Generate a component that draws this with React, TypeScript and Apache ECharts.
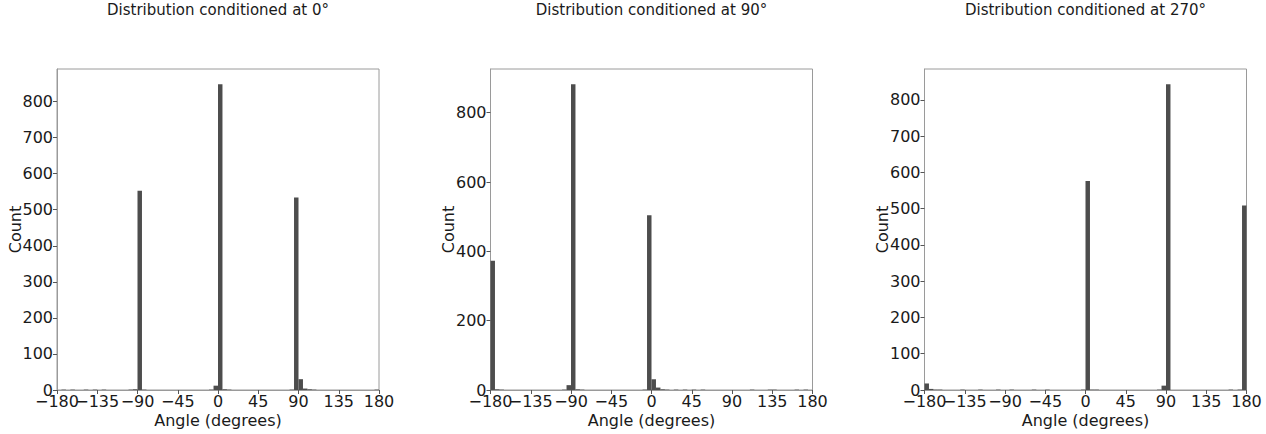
import React, { useEffect, useRef } from "react";
import * as echarts from "echarts";

// Histogram bins: start angle of each 5° bin and its count
const BIN_WIDTH = 5;

const titles = [
  "Distribution conditioned at 0°",
  "Distribution conditioned at 90°",
  "Distribution conditioned at 270°",
];

const p1Bins = [-175, -165, -150, -140, -130, -100, -95, -90, -85, -10, -5, 0, 5, 10, 80, 85, 90, 95, 100, 105, 175];
const p1Counts = [1, 1, 1, 1, 1, 1, 2, 553, 1, 1, 12, 848, 2, 1, 1, 534, 30, 4, 2, 1, 1];

const p2Bins = [-180, -175, -170, -100, -95, -90, -85, -80, -10, -5, 0, 5, 10, 15, 25, 35, 45, 55, 110, 130, 135, 160, 170];
const p2Counts = [373, 2, 1, 1, 14, 882, 2, 1, 1, 504, 31, 7, 2, 1, 1, 1, 1, 1, 1, 1, 1, 1, 1];

const p3Bins = [-180, -175, -170, -165, -140, -120, -100, -85, -60, -45, -5, 0, 5, 10, 80, 85, 90, 160, 170, 175];
const p3Counts = [18, 3, 1, 1, 1, 1, 1, 1, 1, 1, 1, 576, 1, 1, 1, 12, 843, 1, 1, 509];

const xTicks = [-180, -135, -90, -45, 0, 45, 90, 135, 180];
const xTicksA = [-180, -90, 0, 90, 180];
const xTicksB = [-135, -45, 45, 135];
const yTicks13 = [0, 100, 200, 300, 400, 500, 600, 700, 800];
const yTicks2 = [0, 200, 400, 600, 800];

const panels = [
  { bins: p1Bins, counts: p1Counts, yTicks: yTicks13 },
  { bins: p2Bins, counts: p2Counts, yTicks: yTicks2 },
  { bins: p3Bins, counts: p3Counts, yTicks: yTicks13 },
];

const gridLefts = [57, 490.5, 924.5];
const GRID_W = 322;
const GRID_TOP = 69;
const GRID_H = 321;
const FONT = "DejaVu Sans";
const TXT = "#1a1a1a";
const minus = (v: number) => String(v).replace("-", "\u2212");

export default function App() {
  const ref = useRef<HTMLDivElement>(null);
  useEffect(() => {
    document.body.style.margin = "0";
    const chart = echarts.init(ref.current!, null, { renderer: "svg" });
    const grid = panels.map((_, i) => ({
      left: gridLefts[i],
      top: GRID_TOP,
      width: GRID_W,
      height: GRID_H,
      show: true,
      borderColor: "#9a9a9a",
      borderWidth: 1,
      backgroundColor: "transparent",
    }));
    const labelStyle = {
      fontFamily: FONT,
      fontSize: 16,
      color: TXT,
      margin: 3,
      showMinLabel: true,
      showMaxLabel: true,
      hideOverlap: false,
      formatter: (v: number) => minus(v),
    };
    const xAxis: any[] = [];
    panels.forEach((_, i) => {
      xAxis.push({
        type: "value",
        gridIndex: i,
        position: "bottom",
        min: -180,
        max: 180,
        interval: 45,
        name: "Angle (degrees)",
        nameLocation: "middle",
        nameGap: 22,
        nameMoveOverlap: false,
        nameTextStyle: { fontFamily: FONT, fontSize: 16, color: TXT },
        axisLine: { show: true, onZero: false, lineStyle: { color: "#9a9a9a", width: 1 } },
        axisTick: { show: true, length: 4, lineStyle: { color: "#555" }, customValues: xTicks },
        axisLabel: { ...labelStyle, customValues: xTicksA },
        splitLine: { show: false },
      });
      xAxis.push({
        type: "value",
        gridIndex: i,
        position: "bottom",
        offset: 0,
        min: -180,
        max: 180,
        interval: 45,
        axisLine: { show: false, onZero: false },
        axisTick: { show: false },
        axisLabel: { ...labelStyle, customValues: xTicksB },
        splitLine: { show: false },
      });
    });
    const yAxis = panels.map((p, i) => ({
      type: "value",
      gridIndex: i,
      min: 0,
      max: Math.max(...p.counts) * 1.05,
      name: "Count",
      nameLocation: "middle",
      nameGap: 34,
      nameMoveOverlap: false,
      nameTextStyle: { fontFamily: FONT, fontSize: 16, color: TXT },
      axisLine: { show: true, onZero: false, lineStyle: { color: "#9a9a9a", width: 1 } },
      axisTick: { show: true, length: 4, lineStyle: { color: "#555" }, customValues: p.yTicks },
      axisLabel: {
        fontFamily: FONT,
        fontSize: 16,
        color: TXT,
        margin: 4,
        showMinLabel: true,
        hideOverlap: false,
        customValues: p.yTicks,
        formatter: (v: number) => minus(v),
      },
      splitLine: { show: false },
    }));
    const series = panels.map((p, i) => ({
      type: "custom",
      xAxisIndex: i * 2,
      yAxisIndex: i,
      data: p.bins.map((b, j) => [b, p.counts[j]]),
      renderItem: (params: any, api: any) => {
        const x0 = api.value(0);
        const y = api.value(1);
        const a = api.coord([x0, y]);
        const b = api.coord([x0 + BIN_WIDTH, 0]);
        return {
          type: "rect",
          shape: { x: a[0], y: a[1], width: b[0] - a[0], height: b[1] - a[1] },
          style: { fill: "#4d4d4d" },
        };
      },
    }));
    chart.setOption({
      animation: false,
      backgroundColor: "#ffffff",
      title: titles.map((t, i) => ({
        text: t,
        left: gridLefts[i] + GRID_W / 2,
        top: 2,
        padding: 0,
        textAlign: "center",
        textStyle: { fontFamily: FONT, fontSize: 15, fontWeight: "normal", color: TXT },
      })),
      grid,
      xAxis,
      yAxis,
      series,
    });
    return () => chart.dispose();
  }, []);
  return <div ref={ref} style={{ width: 1266, height: 434 }} />;
}
